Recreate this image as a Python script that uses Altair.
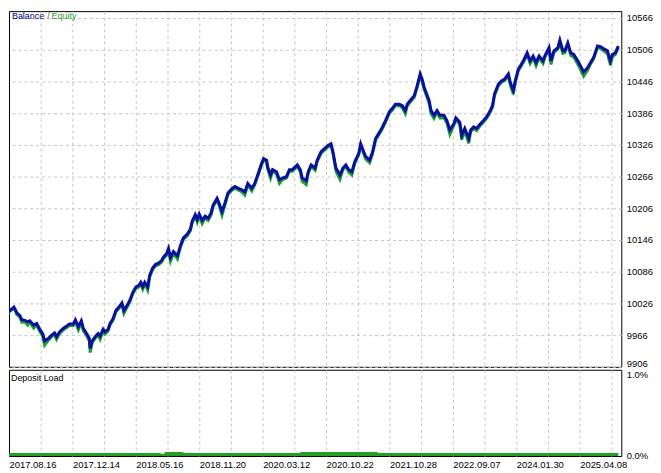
import json
import altair as alt
import pandas as pd

# ---------------- data ----------------
date_labels = ["2017.08.16", "2017.12.14", "2018.05.16", "2018.11.20", "2020.03.12",
               "2020.10.22", "2021.10.28", "2022.09.07", "2024.01.30", "2025.04.08"]
label_idx = [2, 66, 130, 194, 258, 322, 386, 450, 514, 578]
grid_idx = [34, 66, 98, 130, 162, 194, 226, 258, 290, 322, 354, 386, 418, 450,
            482, 514, 546, 578, 610]
balance_ticks = [9906, 9966, 10026, 10086, 10146, 10206, 10266, 10326, 10386,
                 10446, 10506, 10566]
load_ticks = [0, 1]

trade_idx = [
    0, 3, 7, 10, 13, 15, 18, 21, 23, 27,
    30, 33, 36, 38, 42, 45, 48, 50, 53, 57,
    60, 63, 67, 69, 72, 75, 77, 80, 83, 84,
    86, 89, 92, 94, 97, 99, 102, 104, 107, 110,
    113, 116, 118, 122, 124, 127, 130, 133, 135, 137,
    139, 142, 144, 147, 150, 153, 156, 158, 161, 163,
    165, 168, 172, 175, 178, 182, 185, 187, 190, 192,
    194, 197, 200, 203, 206, 208, 212, 214, 217, 220,
    223, 227, 230, 233, 237, 240, 243, 247, 250, 253,
    257, 259, 262, 263, 266, 268, 272, 275, 278, 282,
    285, 288, 293, 296, 298, 302, 304, 307, 311, 313,
    317, 321, 324, 327, 329, 332, 336, 339, 342, 345,
    348, 351, 355, 357, 360, 362, 366, 369, 372, 376,
    379, 382, 386, 389, 392, 396, 399, 402, 404, 407,
    411, 414, 417, 419, 421, 423, 426, 428, 431, 434,
    437, 441, 444, 447, 451, 453, 457, 459, 462, 466,
    468, 471, 474, 477, 481, 484, 487, 490, 492, 496,
    499, 502, 506, 508, 511, 513, 516, 519, 522, 525,
    528, 531, 534, 537, 541, 543, 547, 549, 552, 556,
    558, 561, 563, 566, 569, 572, 576, 579, 582, 586,
    589, 592, 596, 599, 602, 606, 609, 611, 614, 617,
]

balance = [
    10008, 10013, 10019, 10008, 10003, 9995, 9994, 9991, 9993, 9985,
    9988, 9977, 9969, 9955, 9960, 9966, 9970, 9963, 9972, 9979,
    9983, 9987, 9987, 9995, 9982, 9993, 9979, 9970, 9960, 9941,
    9955, 9963, 9969, 9964, 9977, 9972, 9977, 9988, 9997, 10013,
    10019, 10027, 10013, 10025, 10032, 10047, 10057, 10060, 10066, 10058,
    10066, 10057, 10079, 10093, 10100, 10102, 10107, 10114, 10120, 10130,
    10113, 10124, 10116, 10135, 10150, 10157, 10166, 10182, 10194, 10185,
    10195, 10183, 10191, 10187, 10197, 10212, 10225, 10216, 10200, 10216,
    10235, 10243, 10247, 10244, 10241, 10237, 10253, 10244, 10253, 10269,
    10291, 10300, 10297, 10285, 10269, 10279, 10275, 10260, 10263, 10266,
    10279, 10279, 10288, 10279, 10263, 10258, 10275, 10288, 10282, 10297,
    10313, 10320, 10325, 10328, 10313, 10282, 10269, 10282, 10288, 10279,
    10275, 10294, 10310, 10328, 10313, 10304, 10297, 10313, 10338, 10350,
    10360, 10372, 10389, 10395, 10403, 10403, 10400, 10391, 10403, 10410,
    10419, 10438, 10460, 10450, 10435, 10425, 10410, 10391, 10382, 10391,
    10382, 10382, 10372, 10354, 10366, 10377, 10369, 10344, 10357, 10338,
    10354, 10360, 10357, 10364, 10372, 10379, 10388, 10400, 10422, 10441,
    10447, 10450, 10460, 10444, 10429, 10447, 10469, 10478, 10488, 10500,
    10485, 10494, 10482, 10494, 10485, 10495, 10510, 10485, 10504, 10510,
    10524, 10504, 10504, 10519, 10500, 10497, 10485, 10475, 10464, 10472,
    10482, 10491, 10513, 10512, 10508, 10504, 10485, 10497, 10500, 10513,
]

# how far equity dips below balance at each point (read from the green fringe)
equity_gap = [
    3, 2, 2, 3, 3, 5, 3, 6, 3, 6,
    3, 4, 5, 8, 3, 3, 3, 5, 3, 3,
    3, 3, 3, 3, 6, 3, 5, 4, 5, 8,
    3, 3, 3, 6, 3, 4, 3, 3, 3, 3,
    3, 3, 6, 3, 3, 3, 3, 3, 3, 5,
    3, 6, 3, 3, 3, 3, 3, 3, 3, 3,
    7, 3, 6, 3, 3, 3, 3, 3, 3, 5,
    3, 6, 3, 4, 3, 3, 3, 4, 7, 3,
    3, 3, 3, 3, 4, 6, 3, 5, 3, 3,
    3, 3, 3, 4, 6, 3, 4, 7, 3, 3,
    3, 3, 3, 4, 6, 7, 3, 3, 4, 3,
    3, 3, 3, 3, 4, 6, 8, 3, 3, 5,
    6, 3, 3, 3, 4, 5, 5, 3, 3, 3,
    3, 3, 3, 3, 3, 3, 4, 6, 3, 3,
    3, 3, 3, 4, 4, 4, 5, 6, 6, 3,
    5, 5, 5, 8, 3, 3, 5, 8, 4, 9,
    3, 3, 4, 3, 3, 3, 3, 3, 3, 3,
    3, 3, 3, 5, 7, 3, 3, 3, 3, 3,
    5, 3, 6, 3, 5, 3, 3, 7, 3, 3,
    3, 5, 4, 3, 5, 5, 6, 7, 8, 5,
    3, 3, 3, 4, 4, 5, 8, 4, 3, 3,
]

load_idx = [0, 155, 159, 178, 296, 374, 617]
load_pct = [0.035, 0.025, 0.045, 0.035, 0.045, 0.035, 0.035]

# ---------------- tables ----------------
curve = pd.DataFrame({
    "idx": trade_idx,
    "balance": balance,
    "equity": [b - g for b, g in zip(balance, equity_gap)],
})
load = pd.DataFrame({"idx": load_idx, "pct": load_pct})

FONT = "Liberation Sans"
GRID = "#c4c4c4"
BLUE = "#0a0fa0"
GREEN = "#1f9e35"
W = 618

xscale = alt.Scale(domain=[2, 620], nice=False)
yscale = alt.Scale(domain=[9906, 10579], nice=False, zero=False)

x_top_axis = alt.Axis(values=grid_idx, labels=False, ticks=False, domain=False,
                      grid=True, gridColor=GRID, gridDash=[3, 3], title=None)
y_top_axis = alt.Axis(values=balance_ticks, orient="right", ticks=False, domain=False,
                      grid=True, gridColor=GRID, gridDash=[3, 3], title=None,
                      format="d", labelOverlap=False,
                      labelPadding=5,
                      labelBaseline={"condition": {"test": "datum.value < 9950",
                                                   "value": "alphabetic"},
                                     "value": "middle"},
                      labelFlush=False)

base = alt.Chart(curve)
eq_line = base.mark_line(color=GREEN, strokeWidth=3, clip=True).encode(
    x=alt.X("idx:Q", scale=xscale, axis=x_top_axis),
    y=alt.Y("equity:Q", scale=yscale, axis=y_top_axis),
)
bal_line = base.mark_line(color=BLUE, strokeWidth=3, clip=True).encode(
    x=alt.X("idx:Q", scale=xscale, axis=x_top_axis),
    y=alt.Y("balance:Q", scale=yscale, axis=y_top_axis),
)

def tag(text, color, x, y):
    return alt.Chart(pd.DataFrame({"t": [text]})).mark_text(
        align="left", baseline="middle", font=FONT, fontSize=9, color=color
    ).encode(text="t:N", x=alt.value(x), y=alt.value(y))

top = alt.layer(
    eq_line, bal_line,
    tag("Balance", "#00007a", 3, 5),
    tag("/", "#555555", 38.5, 5),
    tag("Equity", "#2a9a2a", 43, 5),
).properties(width=W, height=359)

all_ticks = [2] + grid_idx
label_expr = f"{json.dumps(date_labels)}[(datum.value - 2) / 64] || ''"
x_bot_axis = alt.Axis(values=all_ticks, labelExpr=label_expr, ticks=False, domain=False,
                      grid=True,
                      gridColor={"condition": {"test": "datum.value < 10", "value": "transparent"},
                                 "value": GRID},
                      gridDash=[3, 3], title=None, labelAlign="left", labelBaseline="top",
                      labelPadding=4, labelOverlap=False, labelBound=False, labelFlush=False)
y_bot_axis = alt.Axis(values=load_ticks, orient="right", ticks=False, domain=False,
                      grid=False, title=None, labelPadding=5, labelOverlap=False,
                      labelExpr="format(datum.value, '.1f') + '%'",
                      labelBaseline={"condition": {"test": "datum.value == 1", "value": "top"},
                                     "value": "middle"},
                      labelFlush=False)

load_area = alt.Chart(load).mark_area(color="#22a022", interpolate="step-after",
                                      clip=True).encode(
    x=alt.X("idx:Q", scale=xscale, axis=x_bot_axis),
    y=alt.Y("pct:Q", scale=alt.Scale(domain=[0, 1], nice=False), axis=y_bot_axis),
)

bottom = alt.layer(
    load_area,
    tag("Deposit Load", "#000000", 2, 8),
).properties(width=W, height=87)

chart = alt.vconcat(top, bottom, spacing=3, bounds="flush").properties(
    padding={"left": 0, "top": 0, "right": 0, "bottom": 0}
).configure_view(
    stroke="#000000", strokeWidth=1
).configure_axis(
    labelFont=FONT, labelFontSize=9.5, labelColor="#000000", labelOverlap=False
)

chart.save("out.html", embed_options={"renderer": "svg", "actions": False})
